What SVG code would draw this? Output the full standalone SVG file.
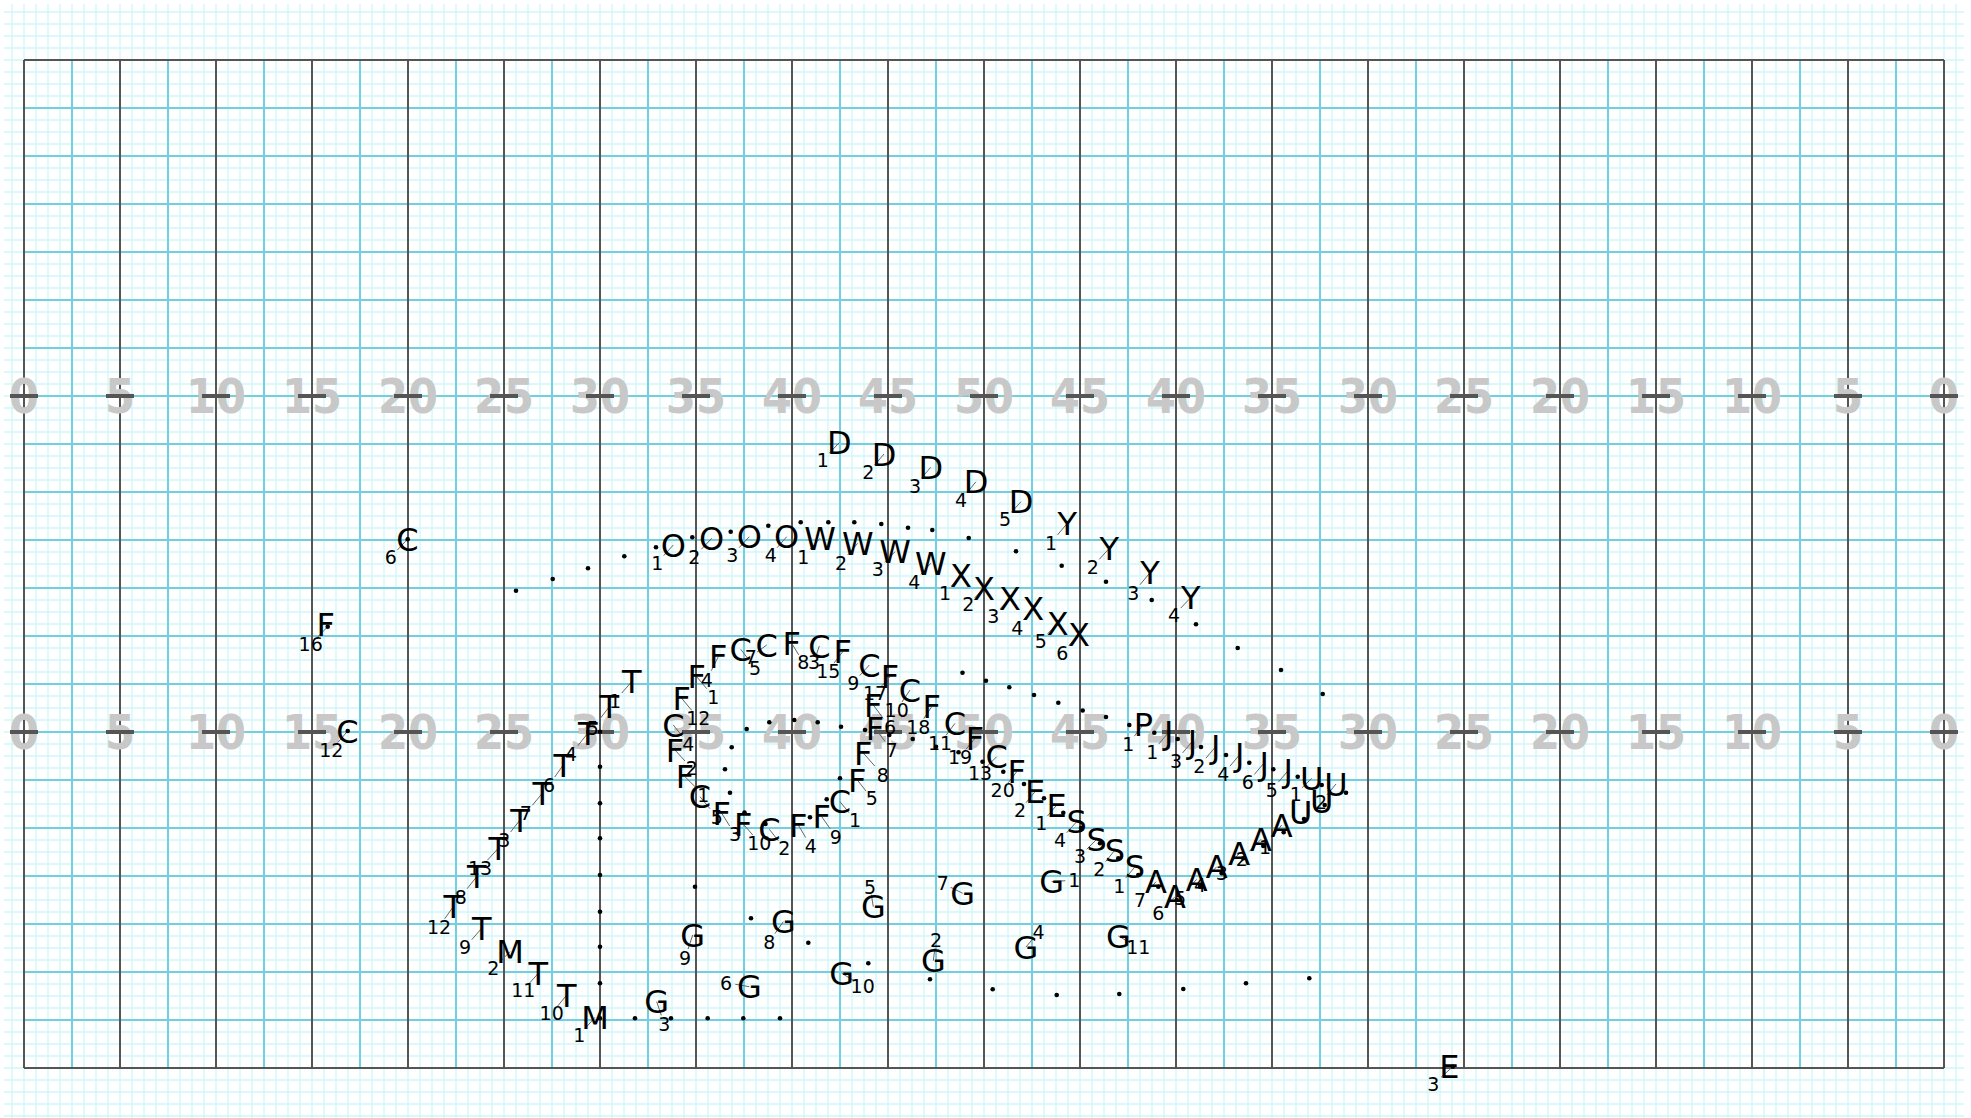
<svg xmlns="http://www.w3.org/2000/svg" xmlns:xlink="http://www.w3.org/1999/xlink" width="1971" height="1118" viewBox="0 0 1971 1118">
<defs>
<pattern id="mg" x="6" y="6" width="12" height="12" patternUnits="userSpaceOnUse"><path d="M6 0V12M0 6H12" stroke="#cdf7fb" stroke-width="1.3" fill="none"/></pattern>
<style>
.L{font-family:"DejaVu Sans",sans-serif;font-size:32px;text-anchor:middle;fill:#000}
.N{font-family:"DejaVu Sans",sans-serif;font-size:19px;text-anchor:middle;fill:#000}
.Y{font-family:"DejaVu Sans Condensed","DejaVu Sans",sans-serif;font-weight:bold;font-size:48px;text-anchor:middle;fill:#c8c8c8}
.blue{stroke:#70cfe0;stroke-width:2;fill:none}
.dark{stroke:#555;stroke-width:2;fill:none}
.tick{stroke:#555;stroke-width:4;fill:none}
#connectors line{stroke:#666;stroke-width:1}
.dots circle{fill:#000}
</style>
</defs>
<rect width="1971" height="1118" fill="#fff"/>
<rect x="4" y="4" width="1960" height="1114" fill="url(#mg)"/>
<g id="field">
<path class="blue" d="M72 60V1068M168 60V1068M264 60V1068M360 60V1068M456 60V1068M552 60V1068M648 60V1068M744 60V1068M840 60V1068M936 60V1068M1032 60V1068M1128 60V1068M1224 60V1068M1320 60V1068M1416 60V1068M1512 60V1068M1608 60V1068M1704 60V1068M1800 60V1068M1896 60V1068"/>
<path class="blue" d="M24 108H1944M24 156H1944M24 204H1944M24 252H1944M24 300H1944M24 348H1944M24 396H1944M24 444H1944M24 492H1944M24 540H1944M24 588H1944M24 636H1944M24 684H1944M24 732H1944M24 780H1944M24 828H1944M24 876H1944M24 924H1944M24 972H1944M24 1020H1944"/>
<path class="dark" d="M24 60V1068M120 60V1068M216 60V1068M312 60V1068M408 60V1068M504 60V1068M600 60V1068M696 60V1068M792 60V1068M888 60V1068M984 60V1068M1080 60V1068M1176 60V1068M1272 60V1068M1368 60V1068M1464 60V1068M1560 60V1068M1656 60V1068M1752 60V1068M1848 60V1068M1944 60V1068M24 60H1944M24 1068H1944"/>
</g>
<g id="yard-numbers">
<text class="Y" x="24" y="413">0</text><text class="Y" x="120" y="413">5</text><text class="Y" x="216" y="413">10</text><text class="Y" x="312" y="413">15</text><text class="Y" x="408" y="413">20</text><text class="Y" x="504" y="413">25</text><text class="Y" x="600" y="413">30</text><text class="Y" x="696" y="413">35</text><text class="Y" x="792" y="413">40</text><text class="Y" x="888" y="413">45</text><text class="Y" x="984" y="413">50</text><text class="Y" x="1080" y="413">45</text><text class="Y" x="1176" y="413">40</text><text class="Y" x="1272" y="413">35</text><text class="Y" x="1368" y="413">30</text><text class="Y" x="1464" y="413">25</text><text class="Y" x="1560" y="413">20</text><text class="Y" x="1656" y="413">15</text><text class="Y" x="1752" y="413">10</text><text class="Y" x="1848" y="413">5</text><text class="Y" x="1944" y="413">0</text>
<text class="Y" x="24" y="749">0</text><text class="Y" x="120" y="749">5</text><text class="Y" x="216" y="749">10</text><text class="Y" x="312" y="749">15</text><text class="Y" x="408" y="749">20</text><text class="Y" x="504" y="749">25</text><text class="Y" x="600" y="749">30</text><text class="Y" x="696" y="749">35</text><text class="Y" x="792" y="749">40</text><text class="Y" x="888" y="749">45</text><text class="Y" x="984" y="749">50</text><text class="Y" x="1080" y="749">45</text><text class="Y" x="1176" y="749">40</text><text class="Y" x="1272" y="749">35</text><text class="Y" x="1368" y="749">30</text><text class="Y" x="1464" y="749">25</text><text class="Y" x="1560" y="749">20</text><text class="Y" x="1656" y="749">15</text><text class="Y" x="1752" y="749">10</text><text class="Y" x="1848" y="749">5</text><text class="Y" x="1944" y="749">0</text>
</g>
<g id="ticks">
<path class="tick" d="M10 396h28M106 396h28M202 396h28M298 396h28M394 396h28M490 396h28M586 396h28M682 396h28M778 396h28M874 396h28M970 396h28M1066 396h28M1162 396h28M1258 396h28M1354 396h28M1450 396h28M1546 396h28M1642 396h28M1738 396h28M1834 396h28M1930 396h28"/>
<path class="tick" d="M10 732h28M106 732h28M202 732h28M298 732h28M394 732h28M490 732h28M586 732h28M682 732h28M778 732h28M874 732h28M970 732h28M1066 732h28M1162 732h28M1258 732h28M1354 732h28M1450 732h28M1546 732h28M1642 732h28M1738 732h28M1834 732h28M1930 732h28"/>
</g>
<g id="connectors">
<line x1="407.3" y1="539.3" x2="397.3" y2="550.1"/><line x1="327.7" y1="626.7" x2="317.5" y2="637.1"/><line x1="347.5" y1="731.3" x2="337.8" y2="742.5"/>
<line x1="673.3" y1="545" x2="663.7" y2="555.6"/><line x1="711.7" y1="538.3" x2="701.3" y2="549.3"/><line x1="749.3" y1="536.7" x2="739.1" y2="547.7"/><line x1="786.7" y1="536.7" x2="777.1" y2="547.7"/>
<line x1="820" y1="538.3" x2="810" y2="549.3"/><line x1="857.7" y1="543.3" x2="847.7" y2="554.9"/><line x1="895" y1="551.7" x2="884.6" y2="562.3"/><line x1="930.7" y1="563.3" x2="920.9" y2="574.3"/>
<line x1="961" y1="575" x2="951.4" y2="586"/><line x1="984" y1="588.3" x2="974.6" y2="597.9"/><line x1="1010" y1="598.3" x2="1000" y2="608.9"/><line x1="1033.3" y1="608.3" x2="1023.7" y2="619.9"/><line x1="1057.7" y1="623.3" x2="1047.5" y2="633.9"/><line x1="1079" y1="634" x2="1069" y2="645.3"/>
<line x1="839.3" y1="442.7" x2="829.3" y2="453.1"/><line x1="884" y1="454" x2="874.6" y2="465"/><line x1="930.7" y1="467.3" x2="921.3" y2="478.3"/><line x1="976" y1="481.7" x2="967" y2="492.7"/><line x1="1021" y1="501.7" x2="1011.4" y2="512.3"/>
<line x1="1067.3" y1="523.3" x2="1057.5" y2="534.9"/><line x1="1109.3" y1="548.3" x2="1099.3" y2="559.3"/><line x1="1150" y1="572.7" x2="1140" y2="584.7"/><line x1="1190.7" y1="597.7" x2="1180.7" y2="608.1"/>
<line x1="631.7" y1="681.7" x2="621.7" y2="693.1"/><line x1="609.3" y1="706.7" x2="599.3" y2="719.7"/><line x1="587.7" y1="733.3" x2="577.7" y2="745.9"/><line x1="563.3" y1="765" x2="554.7" y2="777"/><line x1="542.3" y1="793.3" x2="532.3" y2="805.3"/><line x1="520" y1="820" x2="510.6" y2="832"/><line x1="498.3" y1="848.3" x2="487.3" y2="860.3"/><line x1="476.7" y1="876.7" x2="467.1" y2="888.7"/><line x1="453.3" y1="906.7" x2="444.7" y2="918.7"/><line x1="481.7" y1="928.3" x2="471.7" y2="939.7"/><line x1="510" y1="951.7" x2="500" y2="961.7"/><line x1="538.3" y1="973.3" x2="529.3" y2="983.3"/><line x1="566.7" y1="995" x2="557.7" y2="1006"/><line x1="595" y1="1017.3" x2="585.6" y2="1027.9"/>
<line x1="718.3" y1="656.7" x2="711.3" y2="670.7"/><line x1="696.7" y1="676.7" x2="706.7" y2="688.7"/><line x1="681.7" y1="698.3" x2="691.7" y2="710.3"/><line x1="673.3" y1="725" x2="682.3" y2="736.4"/><line x1="675" y1="750" x2="685" y2="761"/><line x1="685" y1="776.7" x2="696" y2="787.7"/><line x1="700" y1="796.7" x2="710" y2="808.7"/><line x1="721.7" y1="813.3" x2="729.7" y2="826"/><line x1="743.3" y1="824" x2="752.9" y2="835.2"/><line x1="769.3" y1="829.3" x2="778.3" y2="840.7"/><line x1="798.3" y1="825" x2="805.7" y2="837.6"/><line x1="821.7" y1="816.7" x2="830.1" y2="828.7"/><line x1="840" y1="801.7" x2="849" y2="812.7"/><line x1="857.3" y1="780" x2="866" y2="791"/><line x1="863.3" y1="753" x2="874.9" y2="766.2"/><line x1="875" y1="728.3" x2="885" y2="741.3"/><line x1="873.3" y1="705" x2="883.3" y2="718.4"/>
<line x1="890" y1="676.7" x2="881" y2="686.7"/><line x1="910" y1="690" x2="902" y2="702"/><line x1="931.7" y1="706.7" x2="923.7" y2="718.7"/><line x1="955" y1="723.3" x2="946" y2="735.3"/><line x1="975" y1="738.3" x2="966" y2="749.3"/><line x1="996.7" y1="756.7" x2="986.7" y2="766.7"/><line x1="1016.7" y1="771.7" x2="1008.3" y2="782.7"/><line x1="1035" y1="791.7" x2="1026" y2="802.7"/><line x1="1056.7" y1="805" x2="1047.5" y2="816"/>
<line x1="740.7" y1="649.3" x2="749.3" y2="660.3"/><line x1="766.7" y1="645" x2="757.1" y2="652"/><line x1="791.7" y1="643.3" x2="798.7" y2="654.8"/><line x1="819.3" y1="646" x2="816.1" y2="655.6"/><line x1="842.7" y1="651.7" x2="834" y2="663.1"/><line x1="869.3" y1="665" x2="859.7" y2="675.6"/>
<line x1="1076.7" y1="821.7" x2="1066.7" y2="832.7"/><line x1="1096.7" y1="839.3" x2="1086.7" y2="849.3"/><line x1="1115" y1="850" x2="1105.6" y2="861.6"/><line x1="1135" y1="866.7" x2="1125.6" y2="878.1"/>
<line x1="1156" y1="881.7" x2="1146.4" y2="892.7"/><line x1="1175" y1="896.7" x2="1165" y2="906.7"/><line x1="1196.7" y1="879.3" x2="1186.7" y2="890.5"/><line x1="1216.7" y1="866.7" x2="1206.7" y2="877.7"/><line x1="1239.3" y1="853.3" x2="1228.7" y2="865.3"/><line x1="1261" y1="839.3" x2="1249.4" y2="851.3"/><line x1="1281.7" y1="825" x2="1271.7" y2="838"/>
<line x1="1311.7" y1="778.3" x2="1302.1" y2="787.7"/><line x1="1336" y1="784" x2="1327" y2="794.8"/>
<line x1="1168.7" y1="732.2" x2="1158.9" y2="743.9"/><line x1="1192.5" y1="741.2" x2="1182.6" y2="752.9"/><line x1="1215.8" y1="746.5" x2="1205.9" y2="758.2"/><line x1="1239.8" y1="754.5" x2="1229.9" y2="766.2"/><line x1="1264.2" y1="762.8" x2="1254.3" y2="774.5"/><line x1="1288.2" y1="770.5" x2="1278.3" y2="782.2"/><line x1="1143.3" y1="724.5" x2="1134.3" y2="736.2"/>
<line x1="692.7" y1="935" x2="688.1" y2="949"/><line x1="783.3" y1="921.7" x2="774.9" y2="933.7"/><line x1="749.3" y1="986.7" x2="735.3" y2="984.3"/><line x1="656.7" y1="1001.7" x2="661.3" y2="1015.3"/><line x1="873.3" y1="906.7" x2="871.3" y2="894.7"/><line x1="841.7" y1="973.3" x2="854.3" y2="980.9"/><line x1="962.7" y1="893.3" x2="950.7" y2="887.3"/><line x1="933.3" y1="960.7" x2="934.9" y2="948.3"/><line x1="1026" y1="947" x2="1033.5" y2="938"/><line x1="1051.7" y1="881.7" x2="1065.3" y2="880.7"/><line x1="1118.3" y1="936" x2="1130.3" y2="942.8"/>
<line x1="1452.7" y1="1066.7" x2="1441" y2="1077.3"/>
</g>
<g id="trail-dots" class="dots">
<circle cx="516" cy="590.7" r="2.3"/><circle cx="552.7" cy="579" r="2.3"/><circle cx="588" cy="568.3" r="2.3"/><circle cx="624.3" cy="556.3" r="2.3"/><circle cx="656" cy="547.3" r="2.3"/><circle cx="692.3" cy="537.3" r="2.3"/><circle cx="730.7" cy="531.7" r="2.3"/><circle cx="768.3" cy="525.7" r="2.3"/><circle cx="800.7" cy="522.3" r="2.3"/><circle cx="828.3" cy="522.3" r="2.3"/><circle cx="854.3" cy="522.3" r="2.3"/><circle cx="881.3" cy="524" r="2.3"/><circle cx="908" cy="527.7" r="2.3"/><circle cx="932.3" cy="530" r="2.3"/><circle cx="968.7" cy="538" r="2.3"/><circle cx="1016" cy="551.3" r="2.3"/><circle cx="1061.7" cy="565.7" r="2.3"/><circle cx="1106" cy="581.7" r="2.3"/><circle cx="1151.7" cy="600" r="2.3"/><circle cx="1196" cy="624.3" r="2.3"/><circle cx="1237.7" cy="648" r="2.3"/><circle cx="1281" cy="670" r="2.3"/><circle cx="1322.7" cy="694" r="2.3"/>
<circle cx="962.5" cy="672.7" r="2.3"/><circle cx="986" cy="680.7" r="2.3"/><circle cx="1009.3" cy="687.3" r="2.3"/><circle cx="1034" cy="695" r="2.3"/><circle cx="1058.3" cy="702.7" r="2.3"/><circle cx="1082.7" cy="710.5" r="2.3"/><circle cx="1106" cy="717" r="2.3"/><circle cx="1129.3" cy="725" r="2.3"/><circle cx="1154.3" cy="732.7" r="2.3"/><circle cx="1177.7" cy="739" r="2.3"/><circle cx="1201" cy="747" r="2.3"/><circle cx="1226" cy="755" r="2.3"/><circle cx="1249.3" cy="762.7" r="2.3"/><circle cx="1273.3" cy="769.3" r="2.3"/><circle cx="1297.7" cy="776.7" r="2.3"/><circle cx="1321.7" cy="785" r="2.3"/><circle cx="1346" cy="792.7" r="2.3"/>
<circle cx="746.7" cy="729" r="2.3"/><circle cx="769.3" cy="722.3" r="2.3"/><circle cx="794.3" cy="720" r="2.3"/><circle cx="817.7" cy="722.3" r="2.3"/><circle cx="841" cy="726.7" r="2.3"/><circle cx="865" cy="730" r="2.3"/><circle cx="889.3" cy="735" r="2.3"/><circle cx="912.7" cy="739" r="2.3"/><circle cx="936" cy="746.7" r="2.3"/><circle cx="958.5" cy="752.2" r="2.3"/><circle cx="982.5" cy="761.7" r="2.3"/><circle cx="1003.3" cy="771.7" r="2.3"/><circle cx="1024" cy="784" r="2.3"/><circle cx="1044" cy="798.3" r="2.3"/><circle cx="1063.3" cy="812.7" r="2.3"/><circle cx="1081" cy="828" r="2.3"/><circle cx="1100" cy="843.3" r="2.3"/><circle cx="1118.3" cy="858.3" r="2.3"/><circle cx="1138.3" cy="875" r="2.3"/><circle cx="1158.3" cy="886.7" r="2.3"/><circle cx="1176.7" cy="900" r="2.3"/><circle cx="1200" cy="886.7" r="2.3"/><circle cx="1221.7" cy="873.3" r="2.3"/><circle cx="1243.3" cy="858.3" r="2.3"/><circle cx="1263.3" cy="846" r="2.3"/><circle cx="1283.7" cy="832.3" r="2.3"/><circle cx="1304" cy="819" r="2.3"/><circle cx="1324.7" cy="805" r="2.3"/>
<circle cx="731.7" cy="747.3" r="2.3"/><circle cx="725" cy="769.3" r="2.3"/><circle cx="730" cy="792.7" r="2.3"/><circle cx="744.5" cy="812.5" r="2.3"/><circle cx="765.5" cy="824" r="2.3"/><circle cx="810" cy="817.3" r="2.3"/><circle cx="826.7" cy="799.3" r="2.3"/><circle cx="840" cy="778.3" r="2.3"/>
<circle cx="600" cy="731.7" r="2.3"/><circle cx="600" cy="766.7" r="2.3"/><circle cx="600" cy="803.3" r="2.3"/><circle cx="600" cy="838.3" r="2.3"/><circle cx="600" cy="875" r="2.3"/><circle cx="600" cy="911.7" r="2.3"/><circle cx="600" cy="946.7" r="2.3"/><circle cx="600" cy="983.3" r="2.3"/><circle cx="600" cy="1018.3" r="2.3"/>
<circle cx="635" cy="1018.3" r="2.3"/><circle cx="671" cy="1018.3" r="2.3"/><circle cx="707.7" cy="1018.3" r="2.3"/><circle cx="743.3" cy="1018.3" r="2.3"/><circle cx="780" cy="1018.3" r="2.3"/>
<circle cx="695" cy="886.7" r="2.3"/><circle cx="751" cy="918.3" r="2.3"/><circle cx="808.3" cy="942.7" r="2.3"/><circle cx="868.3" cy="963.3" r="2.3"/><circle cx="930" cy="979.3" r="2.3"/><circle cx="992.7" cy="989.3" r="2.3"/><circle cx="1056.7" cy="995" r="2.3"/><circle cx="1119.3" cy="994" r="2.3"/><circle cx="1183.3" cy="989" r="2.3"/><circle cx="1246" cy="983.3" r="2.3"/><circle cx="1309.3" cy="978.3" r="2.3"/>
<circle cx="407.7" cy="539.3" r="2.3"/><circle cx="327.7" cy="626.7" r="2.3"/><circle cx="347.7" cy="731" r="2.3"/><circle cx="1452.7" cy="1066.7" r="2.3"/>
</g>
<g id="C6"><text class="L" x="407.3" y="551">C</text><text class="N" x="390.7" y="564.2">6</text></g>
<g id="F16"><text class="L" x="325.7" y="635.7">F</text><text class="N" x="310.7" y="650.9">16</text></g>
<g id="C12"><text class="L" x="347.3" y="743.4">C</text><text class="N" x="331.3" y="756.9">12</text></g>
<g id="O1"><text class="L" x="673.3" y="556.7">O</text><text class="N" x="657.3" y="569.6">1</text></g>
<g id="O2"><text class="L" x="711.7" y="550">O</text><text class="N" x="694.3" y="563.6">2</text></g>
<g id="O3"><text class="L" x="749.3" y="548.4">O</text><text class="N" x="732.3" y="561.9">3</text></g>
<g id="O4"><text class="L" x="786.7" y="548.4">O</text><text class="N" x="770.7" y="561.9">4</text></g>
<g id="W1"><text class="L" x="820" y="550">W</text><text class="N" x="803.3" y="563.6">1</text></g>
<g id="W2"><text class="L" x="857.7" y="555">W</text><text class="N" x="841" y="569.6">2</text></g>
<g id="W3"><text class="L" x="895" y="563.4">W</text><text class="N" x="877.7" y="576.2">3</text></g>
<g id="W4"><text class="L" x="930.7" y="575">W</text><text class="N" x="914.3" y="588.6">4</text></g>
<g id="X1"><text class="L" x="961" y="586.7">X</text><text class="N" x="945" y="600.2">1</text></g>
<g id="X2"><text class="L" x="984" y="600">X</text><text class="N" x="968.3" y="611.2">2</text></g>
<g id="X3"><text class="L" x="1010" y="610">X</text><text class="N" x="993.3" y="622.9">3</text></g>
<g id="X4"><text class="L" x="1033.3" y="620">X</text><text class="N" x="1017.3" y="634.6">4</text></g>
<g id="X5"><text class="L" x="1057.7" y="635">X</text><text class="N" x="1040.7" y="647.9">5</text></g>
<g id="X6"><text class="L" x="1079" y="645.7">X</text><text class="N" x="1062.3" y="659.7">6</text></g>
<g id="D1"><text class="L" x="839.3" y="454.4">D</text><text class="N" x="822.7" y="466.9">1</text></g>
<g id="D2"><text class="L" x="884" y="465.7">D</text><text class="N" x="868.3" y="479.2">2</text></g>
<g id="D3"><text class="L" x="930.7" y="479">D</text><text class="N" x="915" y="492.6">3</text></g>
<g id="D4"><text class="L" x="976" y="493.4">D</text><text class="N" x="961" y="506.9">4</text></g>
<g id="D5"><text class="L" x="1021" y="513.4">D</text><text class="N" x="1005" y="526.2">5</text></g>
<g id="Y1"><text class="L" x="1067.3" y="535">Y</text><text class="N" x="1051" y="549.6">1</text></g>
<g id="Y2"><text class="L" x="1109.3" y="560">Y</text><text class="N" x="1092.7" y="573.6">2</text></g>
<g id="Y3"><text class="L" x="1150" y="584.4">Y</text><text class="N" x="1133.3" y="599.6">3</text></g>
<g id="Y4"><text class="L" x="1190.7" y="609.4">Y</text><text class="N" x="1174" y="621.9">4</text></g>
<g id="T1"><text class="L" x="631.7" y="693.4">T</text><text class="N" x="615" y="707.6">1</text></g>
<g id="T5"><text class="L" x="609.3" y="718.4">T</text><text class="N" x="592.7" y="735.2">5</text></g>
<g id="T4"><text class="L" x="587.7" y="745">T</text><text class="N" x="571" y="761.2">4</text></g>
<g id="T6"><text class="L" x="563.3" y="776.7">T</text><text class="N" x="549" y="791.9">6</text></g>
<g id="T7"><text class="L" x="542.3" y="805">T</text><text class="N" x="525.7" y="820.2">7</text></g>
<g id="T3"><text class="L" x="520" y="831.7">T</text><text class="N" x="504.3" y="846.9">3</text></g>
<g id="T13"><text class="L" x="498.3" y="860">T</text><text class="N" x="480" y="875.2">13</text></g>
<g id="T8"><text class="L" x="476.7" y="888.4">T</text><text class="N" x="460.7" y="903.6">8</text></g>
<g id="T12"><text class="L" x="453.3" y="918.4">T</text><text class="N" x="439" y="933.6">12</text></g>
<g id="T9"><text class="L" x="481.7" y="940">T</text><text class="N" x="465" y="954.2">9</text></g>
<g id="M2"><text class="L" x="510" y="963.4">M</text><text class="N" x="493.3" y="975.2">2</text></g>
<g id="T11"><text class="L" x="538.3" y="985">T</text><text class="N" x="523.3" y="996.9">11</text></g>
<g id="T10"><text class="L" x="566.7" y="1006.7">T</text><text class="N" x="551.7" y="1020.2">10</text></g>
<g id="M1"><text class="L" x="595" y="1029">M</text><text class="N" x="579.3" y="1041.9">1</text></g>
<g id="F4a"><text class="L" x="718.3" y="668.4">F</text><text class="N" x="706.7" y="686.9">4</text></g>
<g id="F1a"><text class="L" x="696.7" y="688.4">F</text><text class="N" x="713.3" y="703.6">1</text></g>
<g id="F12"><text class="L" x="681.7" y="710">F</text><text class="N" x="698.3" y="725.2">12</text></g>
<g id="C4"><text class="L" x="673.3" y="736.7">C</text><text class="N" x="688.3" y="750.9">4</text></g>
<g id="F2a"><text class="L" x="675" y="761.7">F</text><text class="N" x="691.7" y="775.2">2</text></g>
<g id="F1b"><text class="L" x="685" y="788.4">F</text><text class="N" x="703.3" y="801.9">1</text></g>
<g id="C5b"><text class="L" x="700" y="808.4">C</text><text class="N" x="716.7" y="823.6">5</text></g>
<g id="F3"><text class="L" x="721.7" y="825">F</text><text class="N" x="735" y="841.4">3</text></g>
<g id="F10"><text class="L" x="743.3" y="835.7">F</text><text class="N" x="759.3" y="849.6">10</text></g>
<g id="C2"><text class="L" x="769.3" y="841">C</text><text class="N" x="784.3" y="855.2">2</text></g>
<g id="F4b"><text class="L" x="798.3" y="836.7">F</text><text class="N" x="810.7" y="852.9">4</text></g>
<g id="F9"><text class="L" x="821.7" y="828.4">F</text><text class="N" x="835.7" y="843.6">9</text></g>
<g id="C1"><text class="L" x="840" y="813.4">C</text><text class="N" x="855" y="826.9">1</text></g>
<g id="F5"><text class="L" x="857.3" y="791.7">F</text><text class="N" x="871.7" y="805.2">5</text></g>
<g id="F8"><text class="L" x="863.3" y="764.7">F</text><text class="N" x="882.7" y="781.9">8</text></g>
<g id="F7"><text class="L" x="875" y="740">F</text><text class="N" x="891.7" y="756.9">7</text></g>
<g id="F6"><text class="L" x="873.3" y="716.7">F</text><text class="N" x="890" y="734.2">6</text></g>
<g id="F17"><text class="L" x="890" y="688.4">F</text><text class="N" x="875" y="700.2">17</text></g>
<g id="C10"><text class="L" x="910" y="701.7">C</text><text class="N" x="896.7" y="716.9">10</text></g>
<g id="F18"><text class="L" x="931.7" y="718.4">F</text><text class="N" x="918.3" y="733.6">18</text></g>
<g id="C11"><text class="L" x="955" y="735">C</text><text class="N" x="940" y="750.2">11</text></g>
<g id="F19"><text class="L" x="975" y="750">F</text><text class="N" x="960" y="763.6">19</text></g>
<g id="C13"><text class="L" x="996.7" y="768.4">C</text><text class="N" x="980" y="780.2">13</text></g>
<g id="F20"><text class="L" x="1016.7" y="783.4">F</text><text class="N" x="1002.7" y="796.9">20</text></g>
<g id="E2"><text class="L" x="1035" y="803.4">E</text><text class="N" x="1020" y="816.9">2</text></g>
<g id="E1"><text class="L" x="1056.7" y="816.7">E</text><text class="N" x="1041.3" y="830.2">1</text></g>
<g id="C5"><text class="L" x="740.7" y="661">C</text><text class="N" x="755" y="674.6">5</text></g>
<g id="C7"><text class="L" x="766.7" y="656.7">C</text><text class="N" x="750.7" y="663.6">7</text></g>
<g id="F8b"><text class="L" x="791.7" y="655">F</text><text class="N" x="803.3" y="669.4">8</text></g>
<g id="C3"><text class="L" x="819.3" y="657.7">C</text><text class="N" x="814" y="668.9">3</text></g>
<g id="F15"><text class="L" x="842.7" y="663.4">F</text><text class="N" x="828.3" y="677.6">15</text></g>
<g id="C9"><text class="L" x="869.3" y="676.7">C</text><text class="N" x="853.3" y="689.6">9</text></g>
<g id="S4"><text class="L" x="1076.7" y="833.4">S</text><text class="N" x="1060" y="846.9">4</text></g>
<g id="S3"><text class="L" x="1096.7" y="851">S</text><text class="N" x="1080" y="862.9">3</text></g>
<g id="S2"><text class="L" x="1115" y="861.7">S</text><text class="N" x="1099.3" y="876.2">2</text></g>
<g id="S1"><text class="L" x="1135" y="878.4">S</text><text class="N" x="1119.3" y="892.6">1</text></g>
<g id="A7"><text class="L" x="1156" y="893.4">A</text><text class="N" x="1140" y="906.9">7</text></g>
<g id="A6"><text class="L" x="1175" y="908.4">A</text><text class="N" x="1158.3" y="920.2">6</text></g>
<g id="A5"><text class="L" x="1196.7" y="891">A</text><text class="N" x="1180" y="904.9">5</text></g>
<g id="A4"><text class="L" x="1216.7" y="878.4">A</text><text class="N" x="1200" y="891.9">4</text></g>
<g id="A3"><text class="L" x="1239.3" y="865">A</text><text class="N" x="1221.7" y="880.2">3</text></g>
<g id="A2"><text class="L" x="1261" y="851">A</text><text class="N" x="1241.7" y="866.2">2</text></g>
<g id="A1"><text class="L" x="1281.7" y="836.7">A</text><text class="N" x="1265" y="853.6">1</text></g>
<g id="U1"><text class="L" x="1311.7" y="790">U</text><text class="N" x="1295.7" y="800.9">1</text></g>
<g id="U2"><text class="L" x="1336" y="795.7">U</text><text class="N" x="1321" y="808.9">2</text></g>
<g id="U3"><text class="L" x="1321.7" y="813.4">U</text></g>
<g id="U4"><text class="L" x="1300.7" y="824.4">U</text></g>
<g id="J1"><text class="L" x="1168.7" y="743.9">J</text><text class="N" x="1152.3" y="758.6">1</text></g>
<g id="J3"><text class="L" x="1192.5" y="752.9">J</text><text class="N" x="1176" y="767.6">3</text></g>
<g id="J2"><text class="L" x="1215.8" y="758.2">J</text><text class="N" x="1199.3" y="772.9">2</text></g>
<g id="J4"><text class="L" x="1239.8" y="766.2">J</text><text class="N" x="1223.3" y="780.9">4</text></g>
<g id="J6"><text class="L" x="1264.2" y="774.5">J</text><text class="N" x="1247.7" y="789.2">6</text></g>
<g id="J5"><text class="L" x="1288.2" y="782.2">J</text><text class="N" x="1271.7" y="796.9">5</text></g>
<g id="P1"><text class="L" x="1143.3" y="736.2">P</text><text class="N" x="1128.3" y="750.9">1</text></g>
<g id="G9"><text class="L" x="692.7" y="946.7">G</text><text class="N" x="685" y="965.2">9</text></g>
<g id="G8"><text class="L" x="783.3" y="933.4">G</text><text class="N" x="769.3" y="948.6">8</text></g>
<g id="G6"><text class="L" x="749.3" y="998.4">G</text><text class="N" x="726" y="989.6">6</text></g>
<g id="G3"><text class="L" x="656.7" y="1013.4">G</text><text class="N" x="664.3" y="1031.2">3</text></g>
<g id="G5"><text class="L" x="873.3" y="918.4">G</text><text class="N" x="870" y="893.6">5</text></g>
<g id="G10"><text class="L" x="841.7" y="985">G</text><text class="N" x="862.7" y="992.9">10</text></g>
<g id="G7"><text class="L" x="962.7" y="905">G</text><text class="N" x="942.7" y="890.2">7</text></g>
<g id="G2"><text class="L" x="933.3" y="972.4">G</text><text class="N" x="936" y="946.9">2</text></g>
<g id="G4"><text class="L" x="1026" y="958.7">G</text><text class="N" x="1038.5" y="938.9">4</text></g>
<g id="G1"><text class="L" x="1051.7" y="893.4">G</text><text class="N" x="1074.3" y="886.9">1</text></g>
<g id="G11"><text class="L" x="1118.3" y="947.7">G</text><text class="N" x="1138.3" y="954.2">11</text></g>
<g id="E3"><text class="L" x="1449.3" y="1077.7">E</text><text class="N" x="1433.3" y="1091.2">3</text></g>
</svg>
